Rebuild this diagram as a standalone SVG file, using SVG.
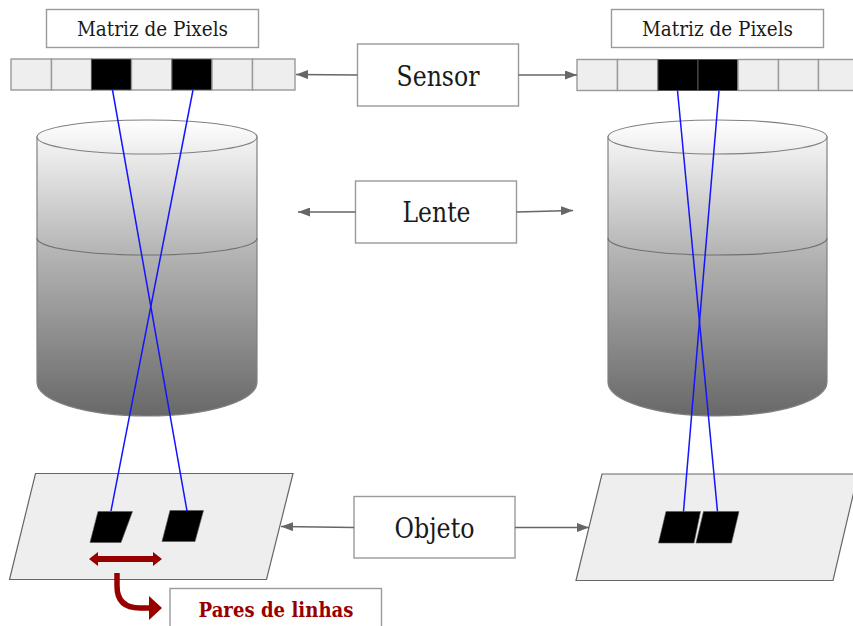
<svg xmlns="http://www.w3.org/2000/svg" width="853" height="626" viewBox="0 0 853 626">
<style>
.box{fill:#fff;stroke:#9a9a9a;stroke-width:1.4}
.t{font-family:"DejaVu Serif","Liberation Serif",serif;fill:#1a1a1a;text-anchor:middle}
.cell{fill:#eee;stroke:#999;stroke-width:1.4}
.on{fill:#000;stroke:#555;stroke-width:1}
.plane{fill:#eee;stroke:#666;stroke-width:1.2}
.cyl{stroke:#808080;stroke-width:1.2;fill:url(#g1)}
.mid{fill:none;stroke:#707070;stroke-width:1.2}
.ray{stroke:#1414ff;stroke-width:1.5;fill:none}
.conn{stroke:#666;stroke-width:1.3;fill:none;marker-end:url(#a)}
</style>
<defs>
<marker id="a" markerWidth="12" markerHeight="9" refX="12" refY="4.500" orient="auto" markerUnits="userSpaceOnUse"><path d="M0 0L12 4.500L0 9z" fill="#666"/></marker>
<linearGradient id="g1" gradientUnits="userSpaceOnUse" x1="0" y1="120" x2="0" y2="416"><stop offset="0" stop-color="#fff"/><stop offset=".45" stop-color="#b4b4b4"/><stop offset="1" stop-color="#686868"/></linearGradient>
</defs>

<g id="cyl-left">
<path class="cyl" d="M37 137V382C37 401 86 416 147 416S257 401 257 382V137z"/>
<ellipse class="cyl" cx="147" cy="137" rx="110" ry="17"/>
<path class="mid" d="M37 238C37 248 86 255 147 255S257 248 257 238"/>
</g>
<g id="cyl-right">
<path class="cyl" d="M608 137V382C608 401 657 416 717.500 416S827 401 827 382V137z"/>
<ellipse class="cyl" cx="717.500" cy="137" rx="109.500" ry="17"/>
<path class="mid" d="M608 238C608 248 657 255 717.500 255S827 248 827 238"/>
</g>

<g id="matriz-left"><rect class="box" x="46.500" y="9.500" width="212" height="38"/><text class="t" x="152.500" y="36" font-size="19.500" textLength="151" lengthAdjust="spacingAndGlyphs">Matriz de Pixels</text></g>
<g id="matriz-right"><rect class="box" x="611.500" y="9.500" width="212" height="38"/><text class="t" x="717.500" y="36" font-size="19.500" textLength="151" lengthAdjust="spacingAndGlyphs">Matriz de Pixels</text></g>

<g id="pixels-left">
<rect class="cell" x="11" y="59" width="40.500" height="31"/><rect class="cell" x="51.500" y="59" width="40" height="31"/>
<rect class="on" x="91.500" y="59" width="40" height="31"/><rect class="cell" x="131.500" y="59" width="40.500" height="31"/>
<rect class="on" x="172" y="59" width="40" height="31"/><rect class="cell" x="212" y="59" width="40.500" height="31"/>
<rect class="cell" x="252.500" y="59" width="42.500" height="31"/>
</g>
<g id="pixels-right">
<rect class="cell" x="577" y="59.500" width="40.500" height="31"/><rect class="cell" x="617.500" y="59.500" width="40.500" height="31"/>
<rect class="on" x="658" y="59.500" width="40" height="31"/><rect class="on" x="698" y="59.500" width="40" height="31"/>
<rect class="cell" x="738" y="59.500" width="40.500" height="31"/><rect class="cell" x="778.500" y="59.500" width="40" height="31"/>
<rect class="cell" x="818.500" y="59.500" width="40" height="31"/>
</g>

<g id="plane-left"><path class="plane" d="M35.500 473.500H293L266.500 579.500H9.500z"/>
<path d="M98 511.500H132.500L121 542.500H90z" fill="#000" stroke="#555" stroke-width=".6"/>
<path d="M170 510.500H203.500L195 541.500H162z" fill="#000" stroke="#555" stroke-width=".6"/></g>
<g id="plane-right"><path class="plane" d="M602 474H858L833 580.500H576z"/>
<path d="M666 511.500H700.500L694 543H658.500z" fill="#000" stroke="#555" stroke-width=".6"/>
<path d="M703.500 511.500H739L731.500 543H696z" fill="#000" stroke="#555" stroke-width=".6"/></g>

<g id="rays">
<path class="ray" d="M112.500 90L187 511"/><path class="ray" d="M193 90L111 511"/>
<path class="ray" d="M677.500 90.500L717.500 511.500"/><path class="ray" d="M719 90.500L683.500 511.500"/>
</g>

<g id="sensor"><rect class="box" x="357.500" y="44" width="161" height="62"/><text class="t" x="438" y="85.500" font-size="27" textLength="83" lengthAdjust="spacingAndGlyphs">Sensor</text></g>
<g id="lente"><rect class="box" x="355.500" y="181" width="161" height="62"/><text class="t" x="436.500" y="222" font-size="27" textLength="68" lengthAdjust="spacingAndGlyphs">Lente</text></g>
<g id="objeto"><rect class="box" x="354" y="496.500" width="161" height="61.500"/><text class="t" x="434.500" y="538" font-size="27" textLength="80" lengthAdjust="spacingAndGlyphs">Objeto</text></g>
<g id="pares"><rect class="box" x="170" y="588.500" width="211.500" height="45"/><text class="t" x="276" y="616.500" font-size="19.500" font-weight="bold" style="fill:#980000" textLength="155" lengthAdjust="spacingAndGlyphs">Pares de linhas</text></g>

<g id="connectors">
<path class="conn" d="M357.500 75L296 74.500"/>
<path class="conn" d="M518.500 75H577"/>
<path class="conn" d="M355.500 212H298"/>
<path class="conn" d="M516.500 212L573 210.500"/>
<path class="conn" d="M354 527.500L281 526.500"/>
<path class="conn" d="M515 527.500H589"/>
<path d="M96 559H155" stroke="#980000" stroke-width="6" fill="none"/>
<path d="M89 559L98 552V566zM162 559L153 552V566z" fill="#980000"/>
<path d="M117 573V586Q117 608 140 608H150" stroke="#980000" stroke-width="5.500" fill="none"/>
<path d="M149 596L162 608L149 620z" fill="#980000"/>
</g>
</svg>
